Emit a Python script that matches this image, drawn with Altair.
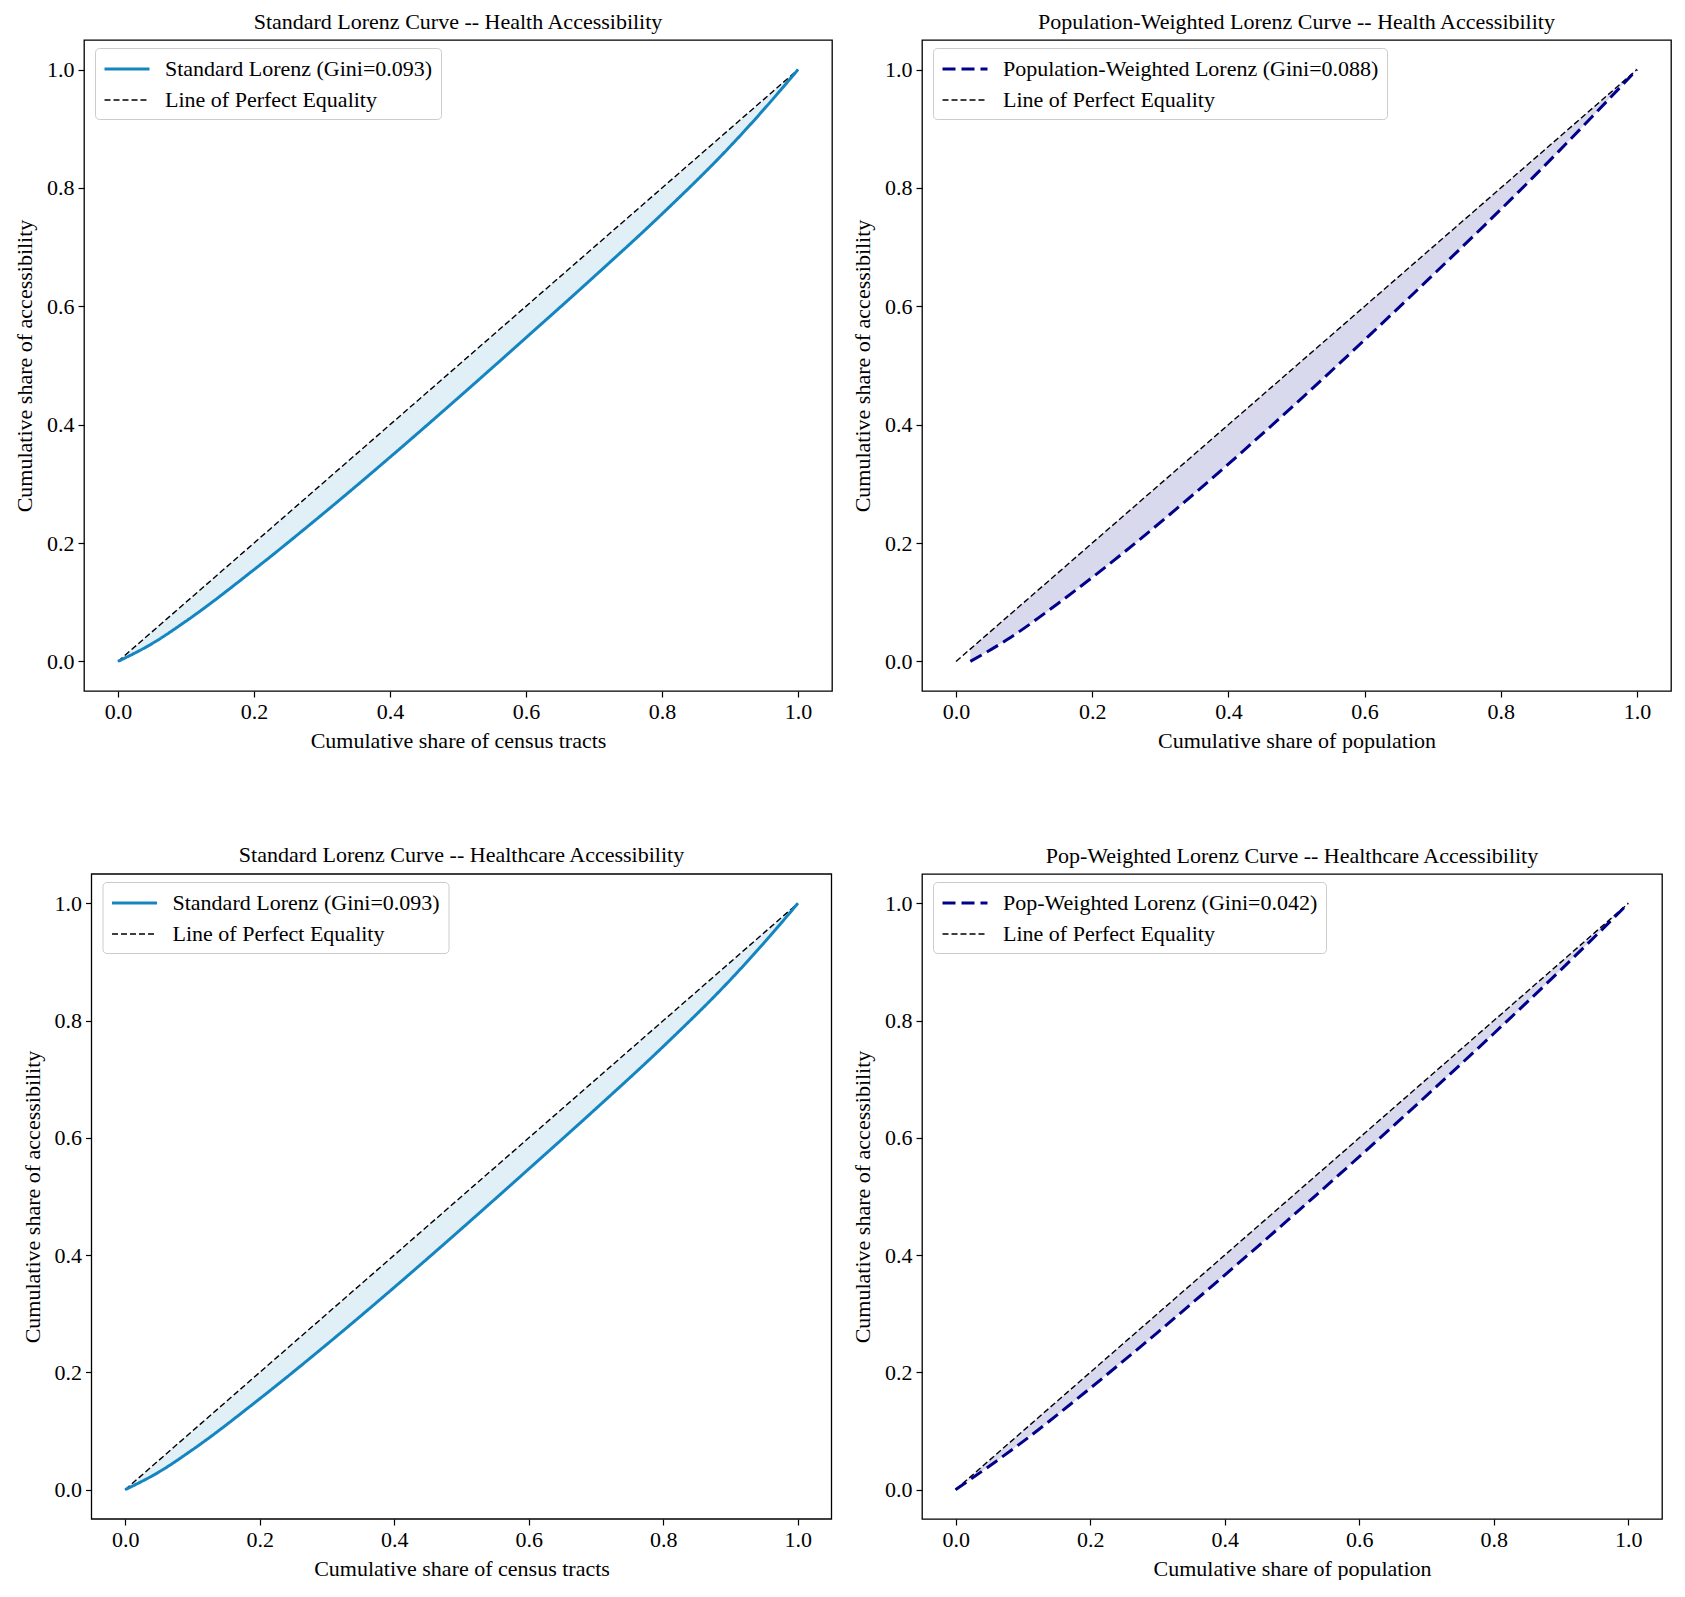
import altair as alt
import pandas as pd

FONT = "Liberation Serif"
EQ_NAME = "Line of Perfect Equality"
eq_x = [0.0, 1.0]
tick_values = [0.0, 0.2, 0.4, 0.6, 0.8, 1.0]
axis_limits = [-0.05, 1.05]

# Panel 1: Standard Lorenz -- Health Accessibility
p1_title = "Standard Lorenz Curve -- Health Accessibility"
p1_name = "Standard Lorenz (Gini=0.093)"
p1_xtitle = "Cumulative share of census tracts"
p1_x = [0.0, 0.05, 0.1, 0.2, 0.3, 0.4, 0.5, 0.6, 0.7, 0.8, 0.9, 0.95, 1.0]
p1_y = [0.0, 0.030, 0.068, 0.155, 0.248, 0.345, 0.445, 0.547, 0.650, 0.756, 0.870, 0.933, 1.0]

# Panel 2: Population-weighted Lorenz -- Health Accessibility
p2_title = "Population-Weighted Lorenz Curve -- Health Accessibility"
p2_name = "Population-Weighted Lorenz (Gini=0.088)"
p2_xtitle = "Cumulative share of population"
p2_x = [0.021, 0.074, 0.158, 0.243, 0.327, 0.426, 0.525, 0.609, 0.694, 0.778, 0.863, 0.933, 1.0]
p2_y = [0.0, 0.036, 0.105, 0.181, 0.261, 0.360, 0.463, 0.553, 0.646, 0.739, 0.836, 0.919, 1.0]

# Panel 3: Standard Lorenz -- Healthcare Accessibility
p3_title = "Standard Lorenz Curve -- Healthcare Accessibility"
p3_name = "Standard Lorenz (Gini=0.093)"
p3_xtitle = "Cumulative share of census tracts"
p3_x = [0.0, 0.05, 0.1, 0.2, 0.3, 0.4, 0.5, 0.6, 0.7, 0.8, 0.9, 0.95, 1.0]
p3_y = [0.0, 0.030, 0.068, 0.155, 0.248, 0.345, 0.445, 0.547, 0.650, 0.756, 0.870, 0.933, 1.0]

# Panel 4: Pop-weighted Lorenz -- Healthcare Accessibility
p4_title = "Pop-Weighted Lorenz Curve -- Healthcare Accessibility"
p4_name = "Pop-Weighted Lorenz (Gini=0.042)"
p4_xtitle = "Cumulative share of population"
p4_x = [0.0, 0.1, 0.2, 0.3, 0.4, 0.5, 0.6, 0.7, 0.8, 0.9, 0.95, 1.0]
p4_y = [0.0, 0.082, 0.173, 0.268, 0.366, 0.466, 0.568, 0.672, 0.778, 0.887, 0.943, 1.0]

STD_BLUE = "#1485c0"
NAVY = "#00008b"
YTITLE = "Cumulative share of accessibility"
RES = dict(color="independent", strokeDash="independent", strokeWidth="independent")


def panel(title, name, xs, ys, color, dash, width, xtitle, w, h, fill_op, shift=0.0):
    curve = pd.DataFrame({"x": xs, "y": ys, "eq": xs})
    curve_l = pd.DataFrame({"x": xs, "y": ys, "series": name})
    eq = pd.DataFrame({"x": eq_x, "y": eq_x, "series": EQ_NAME})
    lines = pd.concat([eq, curve_l], ignore_index=True)
    if shift:
        xs_ = alt.Scale(domain=axis_limits, nice=False, zero=False, range=[shift, w + shift])
    else:
        xs_ = alt.Scale(domain=axis_limits, nice=False, zero=False)
    ys_ = alt.Scale(domain=axis_limits, nice=False, zero=False)
    xaxis = alt.Axis(values=tick_values, format=".1f", title=xtitle, labelFlush=False)
    yaxis = alt.Axis(values=tick_values, format=".1f", title=YTITLE, labelFlush=False,
                     titlePadding=10, offset=-shift)
    dom = [name, EQ_NAME]
    leg = alt.Legend(title=None, orient="none", legendX=11 + shift, legendY=8,
                     fillColor="white", strokeColor="#cccccc", cornerRadius=4,
                     padding=8, rowPadding=8, symbolType="M-2,0H2", symbolSize=506,
                     symbolOffset=11, labelFont=FONT, labelFontSize=22, labelColor="black",
                     labelOffset=25, labelLimit=600)
    area = alt.Chart(curve).mark_area(color=color, opacity=fill_op, interpolate="monotone").encode(
        x=alt.X("x:Q", scale=xs_, axis=xaxis),
        y=alt.Y("y:Q", scale=ys_, axis=yaxis),
        y2="eq:Q",
    )
    line = alt.Chart(lines).mark_line(interpolate="monotone", strokeCap="butt").encode(
        x=alt.X("x:Q", scale=xs_),
        y=alt.Y("y:Q", scale=ys_),
        color=alt.Color("series:N", scale=alt.Scale(domain=dom, range=[color, "black"]), legend=leg),
        strokeDash=alt.StrokeDash("series:N", scale=alt.Scale(domain=dom, range=[dash, [6, 3]]), legend=leg),
        strokeWidth=alt.StrokeWidth("series:N", scale=alt.Scale(domain=dom, range=[width, 1.4]), legend=leg),
    )
    layers = [area, line]
    props = dict(width=w + shift, height=h,
                 title=alt.TitleParams(title, anchor="middle", dx=shift / 2))
    if shift:
        frame = alt.Chart(pd.DataFrame({"a": [0]})).mark_rect(
            fillOpacity=0, stroke="black", strokeWidth=1.3
        ).encode(
            x=alt.datum(axis_limits[0], scale=xs_), x2=alt.datum(axis_limits[1]),
            y=alt.datum(axis_limits[0], scale=ys_), y2=alt.datum(axis_limits[1]),
        )
        layers.append(frame)
        props["view"] = alt.ViewBackground(stroke="transparent")
    return alt.layer(*layers).properties(**props).resolve_scale(**RES)


c1 = panel(p1_title, p1_name, p1_x, p1_y, STD_BLUE, [1, 0], 3, p1_xtitle, 748, 651, 0.13)
c2 = panel(p2_title, p2_name, p2_x, p2_y, NAVY, [13, 6], 3, p2_xtitle, 749, 651, 0.15)
c3 = panel(p3_title, p3_name, p3_x, p3_y, STD_BLUE, [1, 0], 3, p3_xtitle, 740, 645, 0.13, shift=7.5)
c4 = panel(p4_title, p4_name, p4_x, p4_y, NAVY, [13, 6], 3, p4_xtitle, 740, 645, 0.15)

row1 = alt.hconcat(c1, c2, spacing=17).resolve_scale(**RES).resolve_legend(**RES)
row2 = alt.hconcat(c3, c4, spacing=17).resolve_scale(**RES).resolve_legend(**RES)

chart = alt.vconcat(row1, row2, spacing=91).resolve_scale(**RES).resolve_legend(**RES).properties(
    padding={"left": 12, "top": 10, "right": 0, "bottom": 0},
    background="white",
).configure_axis(
    labelFont=FONT, labelFontSize=22, labelColor="black",
    titleFont=FONT, titleFontSize=22, titleFontWeight="normal", titleColor="black",
    tickColor="black", tickSize=6, tickWidth=1.2, labelPadding=4, titlePadding=8,
    domain=False, grid=False,
).configure_view(
    stroke="black", strokeWidth=1.3,
).configure_title(
    font=FONT, fontSize=22, fontWeight="normal", color="black", offset=6,
)

chart.save("out.html", embed_options={"renderer": "svg", "actions": False})
